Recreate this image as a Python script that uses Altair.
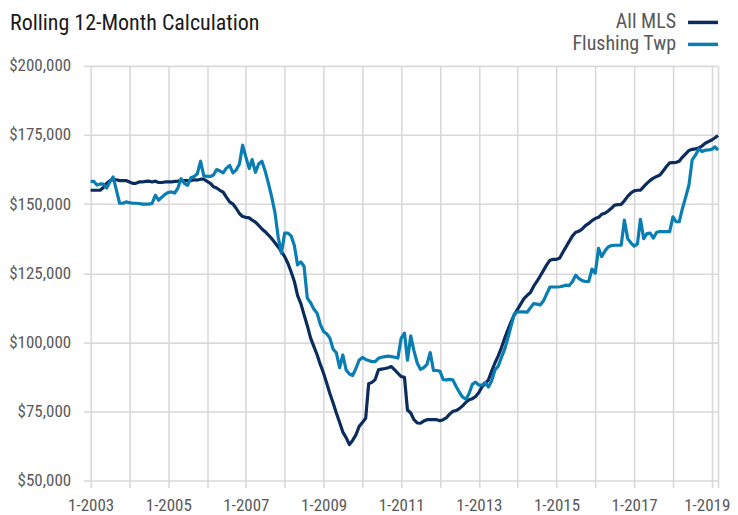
import altair as alt
import pandas as pd

series_names = ["All MLS", "Flushing Twp"]
start_month = "2003-01-01"

all_mls = [
    # 2003
    155.0, 155.0, 155.0, 155.0, 156.0, 157.5, 158.5, 158.8, 158.8, 158.5, 158.5, 158.5,
    # 2004
    158.0, 157.5, 157.5, 158.0, 158.0, 158.2, 158.3, 158.0, 158.3, 157.8, 157.8, 158.0,
    # 2005
    158.0, 158.0, 158.2, 158.3, 158.5, 158.5, 158.5, 158.5, 158.8, 158.7, 159.0, 159.0,
    # 2006
    158.2, 157.5, 156.3, 155.8, 155.0, 154.3, 152.5, 150.8, 150.0, 148.5, 146.6, 145.5,
    # 2007
    145.2, 145.0, 144.2, 143.5, 142.3, 141.0, 140.0, 138.8, 137.5, 136.0, 134.5, 132.8,
    # 2008
    131.0, 128.5, 125.5, 122.0, 117.0, 114.0, 110.0, 106.0, 101.5, 98.5, 95.5, 92.0,
    # 2009
    88.8, 85.0, 81.5, 78.0, 74.4, 71.0, 67.5, 65.5, 63.0, 64.5, 66.5, 69.5,
    # 2010
    71.0, 72.5, 85.0, 85.5, 86.5, 90.0, 90.3, 90.5, 90.8, 91.2, 90.0, 88.8,
    # 2011
    87.6, 87.3, 75.5, 74.4, 72.0, 70.8, 70.7, 71.5, 72.0, 72.0, 72.0, 72.0,
    # 2012
    71.6, 72.0, 72.7, 74.0, 75.0, 75.3, 76.0, 77.0, 78.3, 79.2, 79.6, 80.4,
    # 2013
    81.8, 84.0, 85.0, 86.4, 89.5, 92.5, 95.0, 98.0, 101.5, 104.5, 107.5, 110.0,
    # 2014
    112.0, 114.0, 115.8, 117.0, 118.0, 120.3, 122.0, 124.0, 126.0, 128.0, 129.7, 130.0,
    # 2015
    130.0, 130.5, 132.5, 134.5, 136.5, 138.5, 139.8, 140.2, 141.0, 142.2, 143.0, 144.0,
    # 2016
    144.8, 145.2, 146.3, 146.7, 147.5, 148.5, 149.6, 149.8, 149.9, 151.2, 152.8, 154.0,
    # 2017
    154.8, 155.0, 155.0, 156.3, 157.5, 158.6, 159.4, 160.0, 160.5, 162.0, 163.6, 164.9,
    # 2018
    165.0, 165.1, 165.5, 167.0, 168.2, 169.4, 169.8, 170.0, 170.3, 171.0, 172.0, 172.6,
    # 2019
    173.2, 174.0, 174.8,
]

flushing_twp = [
    # 2003
    158.2, 158.2, 156.9, 157.3, 157.2, 155.8, 158.0, 159.8, 155.0, 150.3, 150.3, 150.8,
    # 2004
    150.5, 150.3, 150.3, 150.2, 150.0, 150.0, 150.0, 150.2, 153.2, 151.4, 152.5, 153.5,
    # 2005
    154.2, 154.4, 154.0, 155.8, 159.2, 157.5, 156.8, 159.5, 160.0, 161.0, 165.5, 160.2,
    # 2006
    160.0, 160.0, 160.5, 162.5, 162.0, 161.3, 163.0, 164.0, 161.3, 162.3, 164.5, 171.3,
    # 2007
    167.0, 162.9, 166.1, 161.5, 164.5, 165.5, 162.0, 157.5, 152.5, 147.0, 138.0, 132.2,
    # 2008
    139.5, 139.5, 138.5, 135.0, 128.0, 129.1, 127.5, 116.0, 114.3, 112.0, 110.5, 106.5,
    # 2009
    103.9, 103.0, 101.5, 97.5, 96.2, 90.8, 95.4, 90.0, 88.5, 88.0, 90.5, 93.5,
    # 2010
    94.5, 93.8, 93.4, 93.0, 93.0, 94.2, 94.6, 94.8, 95.0, 94.8, 94.6, 94.3,
    # 2011
    101.5, 103.3, 93.5, 102.3, 97.0, 92.5, 90.2, 90.8, 92.0, 96.3, 89.8, 89.8,
    # 2012
    89.5, 86.5, 86.4, 86.6, 86.4, 84.0, 82.0, 80.2, 79.4, 81.5, 84.8, 85.6,
    # 2013
    84.5, 84.5, 85.5, 83.8, 86.0, 90.0, 91.3, 94.5, 97.5, 101.5, 106.0, 110.3,
    # 2014
    111.0, 111.0, 111.0, 110.9, 112.5, 114.0, 113.8, 113.5, 115.0, 117.5, 120.0, 120.0,
    # 2015
    120.0, 120.1, 120.3, 120.7, 120.5, 122.0, 124.3, 123.0, 122.3, 122.0, 122.0, 126.5,
    # 2016
    125.0, 134.0, 131.0, 133.0, 134.5, 135.0, 135.1, 135.1, 135.1, 144.2, 137.5, 136.0,
    # 2017
    134.8, 135.6, 144.5, 137.5, 139.3, 139.5, 137.7, 139.8, 140.1, 140.0, 140.0, 140.0,
    # 2018
    145.4, 143.6, 143.6, 148.5, 152.5, 157.0, 166.0, 167.7, 170.0, 169.0, 169.5, 169.6,
    # 2019
    169.8, 170.7, 169.5,
]

series_colors = ["#0b2c5c", "#0a7db3"]
y_ticks = [50000, 75000, 100000, 125000, 150000, 175000, 200000]

months = pd.date_range(start_month, periods=len(all_mls), freq="MS").strftime("%Y-%m-%d")
rows = []
for name, vals in zip(series_names, [all_mls, flushing_twp]):
    for m, v in zip(months, vals):
        rows.append({"month": m, "series": name, "price": v * 1000})
df = pd.DataFrame(rows)

end_month = months[-1]
x_values = [alt.DateTime(year=y, month=1, date=1, utc=True) for y in range(2003, 2020)] + [
    alt.DateTime(year=2019, month=3, date=1, utc=True)
]

FONT = "Liberation Sans Narrow, Roboto Condensed, Roboto, sans-serif"

chart = (
    alt.Chart(df)
    .mark_line(strokeWidth=3.2, strokeJoin="round")
    .encode(
        x=alt.X(
            "month:T",
            scale=alt.Scale(type="utc", domain=[start_month, end_month], nice=False),
            axis=alt.Axis(
                title=None,
                values=x_values,
                labelExpr="utcmonth(datum.value) == 0 && utcyear(datum.value) % 2 == 1 ? '1-' + utcyear(datum.value) : ''",
                grid=True,
                gridColor="#d9d9d9",
                gridWidth=1.6,
                domain=False,
                ticks=True,
                tickColor="#d9d9d9",
                tickWidth=1.6,
                tickSize=7,
                labelPadding=10,
                labelFont=FONT,
                labelFontSize=17,
                labelColor="#595959",
                labelFlush=False,
                labelOverlap=False,
                labelOffset={
                    "condition": {"test": "utcyear(datum.value) == 2019", "value": -5},
                    "value": 0,
                },
            ),
        ),
        y=alt.Y(
            "price:Q",
            scale=alt.Scale(domain=[50000, 200000], nice=False, zero=False),
            axis=alt.Axis(
                title=None,
                values=y_ticks,
                format="$,.0f",
                grid=True,
                gridColor="#d9d9d9",
                gridWidth=1.6,
                domain=False,
                ticks=True,
                tickColor="#d9d9d9",
                tickWidth=1.6,
                tickSize=7,
                labelPadding=13,
                labelFont=FONT,
                labelFontSize=17,
                labelColor="#595959",
            ),
        ),
        color=alt.Color(
            "series:N",
            scale=alt.Scale(domain=series_names, range=series_colors),
            legend=alt.Legend(
                title=None,
                orient="none",
                legendX=601,
                legendY=-55.5,
                symbolType="M-1.5,0L1.5,0",
                symbolSize=400,
                symbolStrokeWidth=3.5,
                labelAlign="right",
                labelOffset=alt.ExprRef("-39"),
                labelFont=FONT,
                labelFontSize=20,
                labelColor="#595959",
                rowPadding=0,
                padding=0,
            ),
        ),
    )
    .properties(
        width=628,
        height=415,
        padding={"left": 82.7, "top": 57.7, "right": 12, "bottom": 34},
        autosize=alt.AutoSizeParams(type="none"),
        title=alt.TitleParams(
            "Rolling 12-Month Calculation",
            anchor="start",
            frame="group",
            dx=-80.7,
            font=FONT,
            fontSize=22,
            fontWeight="normal",
            color="#1a1a1a",
            offset=-25,
        ),
    )
    .configure_view(stroke=None)
)

chart.save("out.html", embed_options={"renderer": "svg", "actions": False})
